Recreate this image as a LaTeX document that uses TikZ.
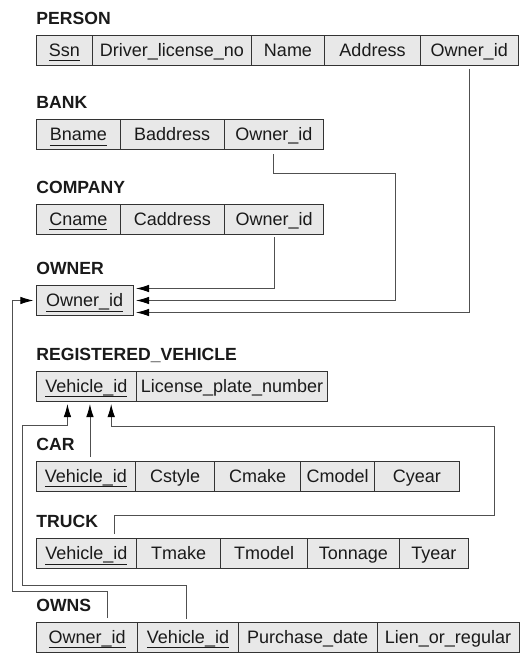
\documentclass[tikz,border=0pt]{standalone}
\usepackage{fontspec}
\setmainfont{Liberation Sans}
\usetikzlibrary{arrows.meta,calc}
\definecolor{cellfill}{HTML}{E8E8E8}
\definecolor{cellline}{HTML}{333333}
\definecolor{txt}{HTML}{1A1A1A}
\definecolor{conncol}{HTML}{505050}
\newcommand\keyattr[1]{\sbox0{#1}\rlap{\rule[-4.5pt]{\wd0}{0.9pt}}\usebox0}
\begin{document}
\begin{tikzpicture}[x=1pt,y=-1pt,
  cell/.style={draw=cellline, line width=0.8pt, fill=cellfill, minimum height=30pt,
    inner sep=0pt, outer sep=0pt, text height=12.8pt, text depth=0pt, anchor=west,
    text=txt, font=\fontsize{18}{20}\selectfont},
  ttl/.style={anchor=base west, inner sep=0pt, outer sep=0pt, text=txt,
    font=\fontsize{17.6}{20}\selectfont\bfseries},
  link/.style={draw=conncol, line width=0.9pt},
  arr/.style={link, -{Latex[length=13pt,width=7.5pt,color=black]}}]
\useasboundingbox[fill=white] (0,0) rectangle (528,661);

% PERSON
\node[ttl] (tperson) at (36.4,24.5) {PERSON};
\node[cell,minimum width=56.1pt] (p1) at (36.4,50.5) {\keyattr{Ssn}};
\node[cell,minimum width=159pt] (p2) at (p1.east) {Driver\_license\_no};
\node[cell,minimum width=73pt] (p3) at (p2.east) {Name};
\node[cell,minimum width=96pt] (p4) at (p3.east) {Address};
\node[cell,minimum width=97.5pt] (p5) at (p4.east) {Owner\_id};

% BANK
\node[ttl] (tbank) at (36.4,108.5) {BANK};
\node[cell,minimum width=83.9pt] (b1) at (36.4,134.5) {\keyattr{Bname}};
\node[cell,minimum width=103.7pt] (b2) at (b1.east) {Baddress};
\node[cell,minimum width=99.6pt] (b3) at (b2.east) {Owner\_id};

% COMPANY
\node[ttl] (tcompany) at (36.4,193) {COMPANY};
\node[cell,minimum width=83.9pt] (c1) at (36.4,219) {\keyattr{Cname}};
\node[cell,minimum width=104.2pt] (c2) at (c1.east) {Caddress};
\node[cell,minimum width=99.1pt] (c3) at (c2.east) {Owner\_id};

% OWNER
\node[ttl] (towner) at (36.4,274.5) {OWNER};
\node[cell,minimum width=96.6pt] (ow) at (36.4,300.5) {\keyattr{Owner\_id}};

% REGISTERED_VEHICLE
\node[ttl] (trv) at (36.4,360) {REGISTERED\_VEHICLE};
\node[cell,minimum width=100.1pt] (rv1) at (36.4,386) {\keyattr{Vehicle\_id}};
\node[cell,minimum width=191.1pt] (rv2) at (rv1.east) {License\_plate\_number};

% CAR
\node[ttl] (tcar) at (36.4,450) {CAR};
\node[cell,minimum width=99.1pt] (car1) at (36.4,476) {\keyattr{Vehicle\_id}};
\node[cell,minimum width=79.2pt] (car2) at (car1.east) {Cstyle};
\node[cell,minimum width=85.9pt] (car3) at (car2.east) {Cmake};
\node[cell,minimum width=74.2pt] (car4) at (car3.east) {Cmodel};
\node[cell,minimum width=84.2pt] (car5) at (car4.east) {Cyear};

% TRUCK
\node[ttl] (ttruck) at (36.4,527.5) {TRUCK};
\node[cell,minimum width=100.1pt] (t1) at (36.4,553.5) {\keyattr{Vehicle\_id}};
\node[cell,minimum width=84.3pt] (t2) at (t1.east) {Tmake};
\node[cell,minimum width=86.6pt] (t3) at (t2.east) {Tmodel};
\node[cell,minimum width=92pt] (t4) at (t3.east) {Tonnage};
\node[cell,minimum width=69.1pt] (t5) at (t4.east) {Tyear};

% OWNS
\node[ttl] (towns) at (36.4,611) {OWNS};
\node[cell,minimum width=101.3pt] (o1) at (36.4,637) {\keyattr{Owner\_id}};
\node[cell,minimum width=100.6pt] (o2) at (o1.east) {\keyattr{Vehicle\_id}};
\node[cell,minimum width=138.7pt] (o3) at (o2.east) {Purchase\_date};
\node[cell,minimum width=142pt] (o4) at (o3.east) {Lien\_or\_regular};

% connectors to OWNER
\draw[arr] ([yshift=-3.5pt]p5.south) |- ([xshift=3pt,yshift=-12pt]ow.east);
\coordinate (bk) at (395,173.5);
\draw[arr] ([yshift=-4.5pt]b3.south) |- (bk) |- ([xshift=3pt]ow.east);
\draw[arr] ([yshift=-3pt]c3.south) |- ([xshift=3pt,yshift=12pt]ow.east);
\coordinate (oa) at (12,591);
\draw[arr] ([xshift=20.3pt,yshift=4pt]o1.north) |- (oa) |- ([xshift=-3pt]ow.west);

% connectors to REGISTERED_VEHICLE
\coordinate (va) at (22.6,585);
\coordinate (vb) at ($(rv1.south)+(-19,24.4)$);
\draw[arr] ([xshift=-2pt,yshift=3pt]o2.north) |- (va) |- (vb) -- ([xshift=-19pt,yshift=-3pt]rv1.south);
\draw[arr] ([xshift=4pt,yshift=4pt]car1.north) -- ([xshift=3.5pt,yshift=-3pt]rv1.south);
\coordinate (ta) at (494,515.3);
\coordinate (tb) at ($(rv1.south)+(24.75,25.7)$);
\draw[arr] ([xshift=27.5pt,yshift=4.5pt]t1.north) |- (ta) |- (tb) -- ([xshift=24.75pt,yshift=-3pt]rv1.south);
\end{tikzpicture}
\end{document}
